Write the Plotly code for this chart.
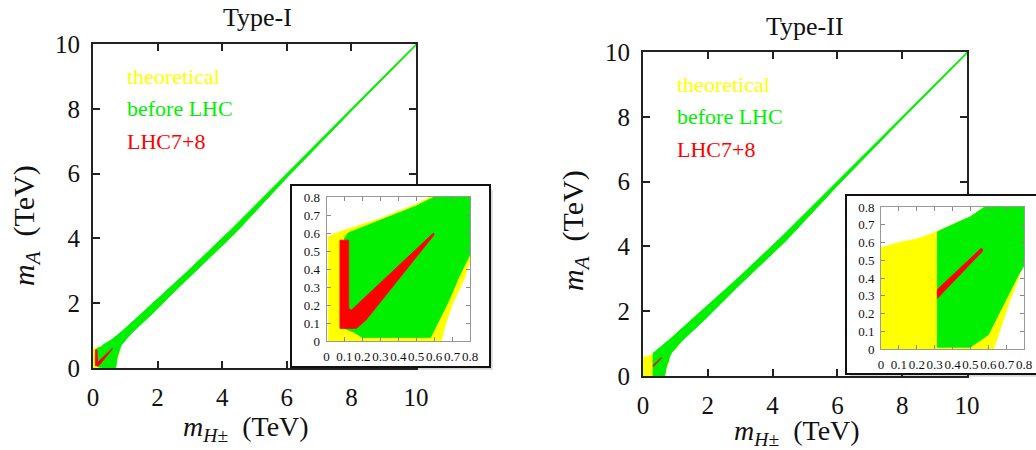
import plotly.graph_objects as go

W, H = 1036, 450

# ---------------- data (TeV) ----------------
main_ticks = [0, 2, 4, 6, 8, 10]
main_labels = ["0", "2", "4", "6", "8", "10"]
inset_ticks = [0, 0.1, 0.2, 0.3, 0.4, 0.5, 0.6, 0.7, 0.8]
inset_labels = ["0", "0.1", "0.2", "0.3", "0.4", "0.5", "0.6", "0.7", "0.8"]

series_names = ["theoretical", "before LHC", "LHC7+8"]
panel_titles = ["Type-I", "Type-II"]

# Type-I : low-mass regions (inset scale)
t1_theo_x = [0.01, 0.01, 0.08, 0.3, 0.5, 0.58, 0.8, 0.8, 0.77, 0.7, 0.66, 0.64]
t1_theo_y = [0.0, 0.58, 0.61, 0.68, 0.76, 0.8, 0.8, 0.45, 0.35, 0.2, 0.08, 0.0]
t1_before_x = [0.1, 0.1, 0.12, 0.3, 0.5, 0.6, 0.8, 0.8, 0.74, 0.68, 0.62, 0.58, 0.2, 0.15]
t1_before_y = [0.07, 0.57, 0.6, 0.67, 0.75, 0.8, 0.8, 0.48, 0.36, 0.22, 0.1, 0.02, 0.02, 0.05]
t1_lhc_x = [0.075, 0.075, 0.124, 0.124, 0.139, 0.596, 0.60, 0.22, 0.167]
t1_lhc_y = [0.07, 0.56, 0.56, 0.18, 0.172, 0.60, 0.59, 0.116, 0.07]
# Type-I : high-mass band (main scale)
t1_band_x = [0.3, 0.3, 0.57, 0.88, 1.4, 1.9, 2.9, 4.3, 6.0, 8.0, 10.0,
             10.0, 8.0, 6.0, 4.4, 2.94, 2.42, 1.91, 1.19, 0.88, 0.76, 0.72, 0.7]
t1_band_y = [0.0, 0.71, 0.87, 1.12, 1.59, 2.05, 2.96, 4.3, 6.01, 8.005, 10.0,
             9.95, 7.93, 5.87, 4.16, 2.77, 2.26, 1.74, 1.07, 0.71, 0.4, 0.1, 0.0]

# Type-II : low-mass regions (inset scale)
t2_theo_x = [0.0, 0.0, 0.1, 0.2, 0.31, 0.4, 0.5, 0.58, 0.8, 0.8, 0.77, 0.72, 0.68, 0.65, 0.63]
t2_theo_y = [0.0, 0.57, 0.6, 0.62, 0.66, 0.7, 0.745, 0.8, 0.8, 0.5, 0.4, 0.27, 0.15, 0.05, 0.0]
t2_before_x = [0.315, 0.315, 0.4, 0.5, 0.58, 0.8, 0.8, 0.77, 0.72, 0.66, 0.6, 0.5]
t2_before_y = [0.01, 0.66, 0.7, 0.745, 0.8, 0.8, 0.47, 0.42, 0.32, 0.2, 0.08, 0.01]
t2_lhc_x = [0.315, 0.315, 0.56, 0.57, 0.565]
t2_lhc_y = [0.285, 0.335, 0.567, 0.56, 0.548]
# Type-II : high-mass band (main scale)
t2_band_x = [0.315, 0.315, 0.57, 0.88, 1.39, 1.91, 2.94, 4.28, 6.0, 8.0, 10.0,
             10.0, 8.0, 6.0, 4.4, 2.94, 2.42, 1.91, 1.19, 0.88, 0.75, 0.68, 0.67]
t2_band_y = [0.0, 0.71, 0.92, 1.18, 1.64, 2.1, 3.03, 4.3, 6.02, 8.01, 10.0,
             9.95, 7.93, 5.87, 4.16, 2.77, 2.26, 1.74, 1.07, 0.71, 0.45, 0.1, 0.0]

# ---------------- style ----------------
YELLOW = "#ffff00"
GREEN = "#00f000"
RED = "#ff0000"
FONT = "Liberation Serif"
AX = "#222222"


def dom_x(a, b):
    return [a / W, b / W]


def dom_y(top, bottom):
    return [1 - bottom / H, 1 - top / H]


fig = go.Figure()


def poly(x, y, color, xa, ya, name):
    fig.add_trace(go.Scatter(
        x=x + [x[0]], y=y + [y[0]], mode="lines", fill="toself",
        fillcolor=color, line=dict(color=color, width=0.8),
        xaxis=xa, yaxis=ya, name=name, showlegend=False, hoverinfo="skip"))


def dummy(xa, ya):
    fig.add_trace(go.Scatter(x=[None], y=[None], mode="markers", xaxis=xa, yaxis=ya,
                             showlegend=False, hoverinfo="skip"))


# Type-I main (x, y)
poly(t1_theo_x, t1_theo_y, YELLOW, "x", "y", series_names[0])
poly(t1_before_x, t1_before_y, GREEN, "x", "y", series_names[1])
poly(t1_band_x, t1_band_y, GREEN, "x", "y", series_names[1])
poly(t1_lhc_x, t1_lhc_y, RED, "x", "y", series_names[2])
# Type-I inset frame (x2, y2)
dummy("x2", "y2")
# Type-I inset (x3, y3)
poly(t1_theo_x, t1_theo_y, YELLOW, "x3", "y3", series_names[0])
poly(t1_before_x, t1_before_y, GREEN, "x3", "y3", series_names[1])
poly(t1_lhc_x, t1_lhc_y, RED, "x3", "y3", series_names[2])
# Type-II main (x4, y4)
poly(t2_theo_x, t2_theo_y, YELLOW, "x4", "y4", series_names[0])
poly(t2_before_x, t2_before_y, GREEN, "x4", "y4", series_names[1])
poly(t2_band_x, t2_band_y, GREEN, "x4", "y4", series_names[1])
poly(t2_lhc_x, t2_lhc_y, RED, "x4", "y4", series_names[2])
# Type-II inset frame (x5, y5)
dummy("x5", "y5")
# Type-II inset (x6, y6)
poly(t2_theo_x, t2_theo_y, YELLOW, "x6", "y6", series_names[0])
poly(t2_before_x, t2_before_y, GREEN, "x6", "y6", series_names[1])
poly(t2_lhc_x, t2_lhc_y, RED, "x6", "y6", series_names[2])


def main_axis(domain, anchor):
    return dict(domain=domain, anchor=anchor, range=[0, 10], tickvals=main_ticks,
                ticktext=main_labels, ticks="inside", ticklen=7, tickwidth=2,
                tickcolor=AX, showline=True, linecolor=AX, linewidth=2,
                mirror="ticks", showgrid=False, zeroline=False, automargin=False,
                tickangle=0, tickfont=dict(family=FONT, size=25, color="#111"),
                ticklabelstandoff=6)


def inset_axis(domain, anchor):
    return dict(domain=domain, anchor=anchor, range=[0, 0.8], tickvals=inset_ticks,
                ticktext=inset_labels, ticks="inside", ticklen=4, tickwidth=1,
                tickcolor="#888", showline=True, linecolor="#999", linewidth=1,
                mirror="ticks", showgrid=False, zeroline=False, automargin=False,
                tickangle=0, tickfont=dict(family=FONT, size=13, color="#111"),
                ticklabelstandoff=3)


def frame_axis(domain, anchor, mirror=True):
    return dict(domain=domain, anchor=anchor, range=[0, 1], showline=True,
                linecolor="#111", linewidth=2, mirror=mirror, ticks="",
                showticklabels=False, showgrid=False, zeroline=False, automargin=False)


layout = dict(
    width=W, height=H, margin=dict(l=0, r=0, t=0, b=0, pad=0, autoexpand=False),
    paper_bgcolor="white", plot_bgcolor="white", showlegend=False,
    xaxis=main_axis(dom_x(93, 416), "y"),
    yaxis=main_axis(dom_y(44, 368), "x"),
    xaxis2=frame_axis(dom_x(292, 489), "y2"),
    yaxis2=frame_axis(dom_y(186, 366), "x2"),
    xaxis3=inset_axis(dom_x(326.5, 470), "y3"),
    yaxis3=inset_axis(dom_y(197, 341), "x3"),
    xaxis4=main_axis(dom_x(643, 967), "y4"),
    yaxis4=main_axis(dom_y(52, 376), "x4"),
    xaxis5=frame_axis(dom_x(847, 1036), "y5"),
    yaxis5=frame_axis(dom_y(196, 373), "x5", mirror=False),
    xaxis6=inset_axis(dom_x(881, 1024), "y6"),
    yaxis6=inset_axis(dom_y(207, 349), "x6"),
)
fig.update_layout(**layout)

# soft drop shadows behind the inset boxes
shapes = []
for (l, t, r, b) in ((292, 186, 489, 366), (847, 196, 1036, 373)):
    for off, col in ((4, "#e4e4e4"), (2.5, "#c8c8c8")):
        shapes.append(dict(type="rect", xref="paper", yref="paper", layer="below",
                           x0=(l + off) / W, x1=(r + off) / W,
                           y0=1 - (b + off) / H, y1=1 - (t + off) / H,
                           line=dict(width=0), fillcolor=col))
fig.update_layout(shapes=shapes)

ann = []


def ptxt(px, py, text, size, angle=0, color="#111"):
    ann.append(dict(x=px / W, y=1 - py / H, xref="paper", yref="paper", text=text,
                    showarrow=False, textangle=angle, xanchor="center", yanchor="middle",
                    font=dict(family=FONT, size=size, color=color)))


# titles
ptxt(257, 17, panel_titles[0], 26)
ptxt(805, 26, panel_titles[1], 26)
# axis titles
xt = "<i>m</i><sub><i>H</i>±</sub>  (TeV)"
yt = "<i>m</i><sub><i>A</i></sub>  (TeV)"
ptxt(246, 428, xt, 28)
ptxt(797, 432, xt, 28)
ptxt(26, 226, yt, 30, angle=-90)
ptxt(575, 231, yt, 30, angle=-90)

# legend texts (data coordinates)
for xa, ya in (("x", "y"), ("x4", "y4")):
    for name, yv, col in zip(series_names, [9.0, 8.0, 7.0], [YELLOW, GREEN, RED]):
        ann.append(dict(x=1.0, y=yv, xref=xa, yref=ya, text=name, showarrow=False,
                        xanchor="left", yanchor="middle",
                        font=dict(family=FONT, size=22, color=col)))

fig.update_layout(annotations=ann)
fig.write_html("out.html")
